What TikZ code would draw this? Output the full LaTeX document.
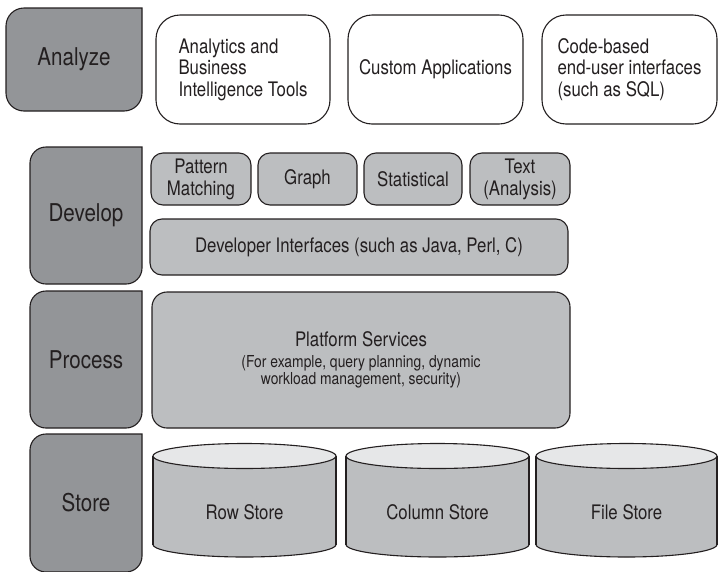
\documentclass[tikz,border=0pt]{standalone}
\usepackage{fontspec}
\setmainfont[FakeStretch=0.84]{TeX Gyre Heros}
\usetikzlibrary{backgrounds}

\definecolor{ink}{HTML}{231F20}
\definecolor{tierfill}{HTML}{939598}
\definecolor{boxfill}{HTML}{BCBEC0}
\definecolor{capfill}{HTML}{E6E7E8}

% one storage drum: name, left x, right x, label
\newcommand\storedrum[4]{%
  \pgfmathsetmacro\drumc{(#2+#3)/2}%
  \pgfmathsetmacro\drumr{(#3-#2)/2}%
  \draw[outline, fill=boxfill] (\drumc,544.5) ellipse ({\drumr} and 12.5);
  \fill[boxfill] (#2,456) rectangle (#3,544.5);
  \draw[outline] (#2,456) -- (#2,544.5) (#3,456) -- (#3,544.5);
  \draw[outline, fill=capfill] (\drumc,456) ellipse ({\drumr} and 12.5);
  \node[font=\fontsize{20}{22}\selectfont] (#1) at (\drumc,512.5) {#4};
}

\begin{document}
\begin{tikzpicture}[x=1pt, y=-1pt,
  every node/.style={text=ink, inner sep=0pt, outer sep=0pt},
  outline/.style={draw=ink, line width=1.1pt},
  tier/.style={font=\fontsize{24.5}{26}\selectfont},
  tierpath/.style={outline, fill=tierfill},
  appbox/.style={outline, fill=white, rounded corners=24pt,
    align=left, font=\fontsize{20}{21.5}\selectfont, minimum height=109pt},
  toolbox/.style={outline, fill=boxfill, rounded corners=12pt,
    align=center, font=\fontsize{20}{22}\selectfont},
]
\useasboundingbox (0,0) rectangle (718,571);

% layer labels on the left
\node[tier, minimum width=136pt, minimum height=103pt] (an) at (74,59.5) {Analyze};
\node[tier, minimum width=112pt, minimum height=137pt] (dv) at (86,215.5) {Develop};
\node[tier, minimum width=112pt, minimum height=137pt] (pr) at (86,359.5) {Process};
\node[tier, minimum width=112pt, minimum height=138pt] (st) at (86,503) {Store};

\begin{scope}[on background layer]
  \foreach \t/\r in {an/18pt, dv/16pt, pr/16pt, st/16pt}{
    \draw[tierpath] (\t.north east) [rounded corners=\r] -- (\t.north west)
      -- (\t.south west) -- (\t.south east) [sharp corners] -- cycle;
  }
\end{scope}

% analyze layer
\node[appbox, minimum width=174pt] (ab) at (243,69.5)
  {Analytics and\\Business\\Intelligence Tools};
\node[appbox, minimum width=175pt] (ca) at (435.5,69.5) {Custom Applications};
\node[appbox, minimum width=175pt] (cb) at (629.5,69.5)
  {Code-based\\end-user interfaces\\(such as SQL)};

% develop layer
\node[toolbox, minimum width=100pt, minimum height=52pt] (pm) at (201,179) {Pattern\\Matching};
\node[toolbox, minimum width=99pt, minimum height=52pt] (gr) at (307.5,179) {Graph};
\node[toolbox, minimum width=98pt, minimum height=52pt] (sa) at (413,179) {Statistical};
\node[toolbox, minimum width=100pt, minimum height=52pt] (tx) at (520,179) {Text\\(Analysis)};
\node[toolbox, minimum width=418pt, minimum height=56pt] (di) at (359,247)
  {Developer Interfaces (such as Java, Perl, C)};

% process layer
\node[toolbox, rounded corners=15pt, minimum width=418pt, minimum height=136pt,
  font=\fontsize{16.5}{17.7}\selectfont] (ps) at (361,360)
  {{\fontsize{20}{20}\selectfont Platform Services}\\[3pt]
   (For example, query planning, dynamic\\workload management, security)};

% store layer
\storedrum{rs}{153}{336}{Row Store}
\storedrum{cs}{346}{529}{Column Store}
\storedrum{fs}{536}{717}{File Store}
\end{tikzpicture}
\end{document}
